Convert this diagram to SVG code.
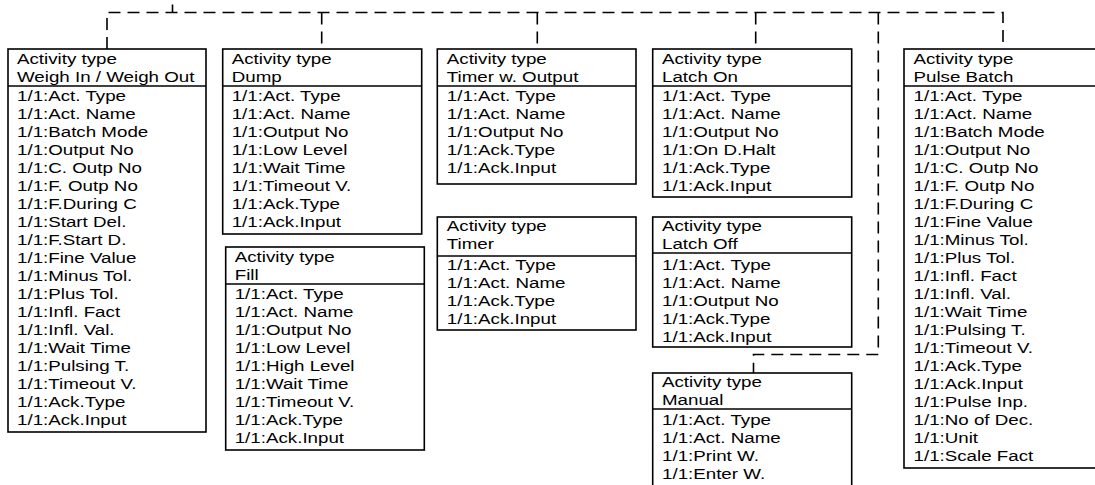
<svg xmlns="http://www.w3.org/2000/svg" width="1095" height="485" viewBox="0 0 1095 485">
<style>
.node rect{fill:#fff;stroke:#000;stroke-width:1.6}
.node line{stroke:#000;stroke-width:1.6}
text{font-family:"Liberation Sans",Arial,Helvetica,sans-serif;font-size:15.5px;fill:#000}
.conn path{fill:none;stroke:#000;stroke-width:1.6;stroke-dasharray:12 7}
.conn line{stroke:#000;stroke-width:1.6}
</style>
<rect x="0" y="0" width="1095" height="485" fill="#fff"/>
<g id="connectors" class="conn">
<line x1="172.5" y1="4.5" x2="172.5" y2="12.5"/>
<path d="M107,49 V12.5 H1003 V49"/>
<path d="M321.7,12.5 V49"/>
<path d="M537.3,12.5 V49"/>
<path d="M755.7,12.5 V49"/>
<path d="M878.3,12.5 V354.5 H753.5 V373"/>
</g>
<g id="weigh" class="node">
<rect x="8" y="49" width="198" height="383"/>
<line x1="8" y1="86" x2="206" y2="86"/>
<g transform="translate(17 0) scale(1.21 1)"><text>
<tspan x="0" y="64">Activity type</tspan><tspan x="0" y="82">Weigh In / Weigh Out</tspan>
<tspan x="0" y="101">1/1:Act. Type</tspan><tspan x="0" dy="18">1/1:Act. Name</tspan><tspan x="0" dy="18">1/1:Batch Mode</tspan><tspan x="0" dy="18">1/1:Output No</tspan><tspan x="0" dy="18">1/1:C. Outp No</tspan><tspan x="0" dy="18">1/1:F. Outp No</tspan><tspan x="0" dy="18">1/1:F.During C</tspan><tspan x="0" dy="18">1/1:Start Del.</tspan><tspan x="0" dy="18">1/1:F.Start D.</tspan><tspan x="0" dy="18">1/1:Fine Value</tspan><tspan x="0" dy="18">1/1:Minus Tol.</tspan><tspan x="0" dy="18">1/1:Plus Tol.</tspan><tspan x="0" dy="18">1/1:Infl. Fact</tspan><tspan x="0" dy="18">1/1:Infl. Val.</tspan><tspan x="0" dy="18">1/1:Wait Time</tspan><tspan x="0" dy="18">1/1:Pulsing T.</tspan><tspan x="0" dy="18">1/1:Timeout V.</tspan><tspan x="0" dy="18">1/1:Ack.Type</tspan><tspan x="0" dy="18">1/1:Ack.Input</tspan>
</text></g>
</g>
<g id="dump" class="node">
<rect x="222.7" y="49" width="199" height="185"/>
<line x1="222.7" y1="86" x2="421.7" y2="86"/>
<g transform="translate(231.7 0) scale(1.21 1)"><text>
<tspan x="0" y="64">Activity type</tspan><tspan x="0" y="82">Dump</tspan>
<tspan x="0" y="101">1/1:Act. Type</tspan><tspan x="0" dy="18">1/1:Act. Name</tspan><tspan x="0" dy="18">1/1:Output No</tspan><tspan x="0" dy="18">1/1:Low Level</tspan><tspan x="0" dy="18">1/1:Wait Time</tspan><tspan x="0" dy="18">1/1:Timeout V.</tspan><tspan x="0" dy="18">1/1:Ack.Type</tspan><tspan x="0" dy="18">1/1:Ack.Input</tspan>
</text></g>
</g>
<g id="fill" class="node">
<rect x="225.7" y="247" width="198.6" height="203"/>
<line x1="225.7" y1="284" x2="424.3" y2="284"/>
<g transform="translate(234.7 0) scale(1.21 1)"><text>
<tspan x="0" y="262">Activity type</tspan><tspan x="0" y="280">Fill</tspan>
<tspan x="0" y="299">1/1:Act. Type</tspan><tspan x="0" dy="18">1/1:Act. Name</tspan><tspan x="0" dy="18">1/1:Output No</tspan><tspan x="0" dy="18">1/1:Low Level</tspan><tspan x="0" dy="18">1/1:High Level</tspan><tspan x="0" dy="18">1/1:Wait Time</tspan><tspan x="0" dy="18">1/1:Timeout V.</tspan><tspan x="0" dy="18">1/1:Ack.Type</tspan><tspan x="0" dy="18">1/1:Ack.Input</tspan>
</text></g>
</g>
<g id="timer-output" class="node">
<rect x="437.3" y="49" width="198.7" height="135"/>
<line x1="437.3" y1="86" x2="636" y2="86"/>
<g transform="translate(446.8 0) scale(1.21 1)"><text>
<tspan x="0" y="64">Activity type</tspan><tspan x="0" y="82">Timer w. Output</tspan>
<tspan x="0" y="101">1/1:Act. Type</tspan><tspan x="0" dy="18">1/1:Act. Name</tspan><tspan x="0" dy="18">1/1:Output No</tspan><tspan x="0" dy="18">1/1:Ack.Type</tspan><tspan x="0" dy="18">1/1:Ack.Input</tspan>
</text></g>
</g>
<g id="timer" class="node">
<rect x="437.3" y="217" width="198.7" height="113"/>
<line x1="437.3" y1="256" x2="636" y2="256"/>
<g transform="translate(446.8 0) scale(1.21 1)"><text>
<tspan x="0" y="231">Activity type</tspan><tspan x="0" y="249">Timer</tspan>
<tspan x="0" y="270">1/1:Act. Type</tspan><tspan x="0" dy="18">1/1:Act. Name</tspan><tspan x="0" dy="18">1/1:Ack.Type</tspan><tspan x="0" dy="18">1/1:Ack.Input</tspan>
</text></g>
</g>
<g id="latch-on" class="node">
<rect x="652.7" y="49" width="199" height="148"/>
<line x1="652.7" y1="86" x2="851.7" y2="86"/>
<g transform="translate(662 0) scale(1.21 1)"><text>
<tspan x="0" y="64">Activity type</tspan><tspan x="0" y="82">Latch On</tspan>
<tspan x="0" y="101">1/1:Act. Type</tspan><tspan x="0" dy="18">1/1:Act. Name</tspan><tspan x="0" dy="18">1/1:Output No</tspan><tspan x="0" dy="18">1/1:On D.Halt</tspan><tspan x="0" dy="18">1/1:Ack.Type</tspan><tspan x="0" dy="18">1/1:Ack.Input</tspan>
</text></g>
</g>
<g id="latch-off" class="node">
<rect x="652.7" y="217" width="199" height="130"/>
<line x1="652.7" y1="253" x2="851.7" y2="253"/>
<g transform="translate(662 0) scale(1.21 1)"><text>
<tspan x="0" y="231">Activity type</tspan><tspan x="0" y="249">Latch Off</tspan>
<tspan x="0" y="270">1/1:Act. Type</tspan><tspan x="0" dy="18">1/1:Act. Name</tspan><tspan x="0" dy="18">1/1:Output No</tspan><tspan x="0" dy="18">1/1:Ack.Type</tspan><tspan x="0" dy="18">1/1:Ack.Input</tspan>
</text></g>
</g>
<g id="manual" class="node">
<rect x="652.7" y="373" width="199" height="125"/>
<line x1="652.7" y1="409" x2="851.7" y2="409"/>
<g transform="translate(662 0) scale(1.21 1)"><text>
<tspan x="0" y="387">Activity type</tspan><tspan x="0" y="405">Manual</tspan>
<tspan x="0" y="425">1/1:Act. Type</tspan><tspan x="0" dy="18">1/1:Act. Name</tspan><tspan x="0" dy="18">1/1:Print W.</tspan><tspan x="0" dy="18">1/1:Enter W.</tspan>
</text></g>
</g>
<g id="pulse-batch" class="node">
<rect x="904" y="49" width="205" height="419"/>
<line x1="904" y1="86" x2="1109" y2="86"/>
<g transform="translate(913.5 0) scale(1.21 1)"><text>
<tspan x="0" y="64">Activity type</tspan><tspan x="0" y="82">Pulse Batch</tspan>
<tspan x="0" y="101">1/1:Act. Type</tspan><tspan x="0" dy="18">1/1:Act. Name</tspan><tspan x="0" dy="18">1/1:Batch Mode</tspan><tspan x="0" dy="18">1/1:Output No</tspan><tspan x="0" dy="18">1/1:C. Outp No</tspan><tspan x="0" dy="18">1/1:F. Outp No</tspan><tspan x="0" dy="18">1/1:F.During C</tspan><tspan x="0" dy="18">1/1:Fine Value</tspan><tspan x="0" dy="18">1/1:Minus Tol.</tspan><tspan x="0" dy="18">1/1:Plus Tol.</tspan><tspan x="0" dy="18">1/1:Infl. Fact</tspan><tspan x="0" dy="18">1/1:Infl. Val.</tspan><tspan x="0" dy="18">1/1:Wait Time</tspan><tspan x="0" dy="18">1/1:Pulsing T.</tspan><tspan x="0" dy="18">1/1:Timeout V.</tspan><tspan x="0" dy="18">1/1:Ack.Type</tspan><tspan x="0" dy="18">1/1:Ack.Input</tspan><tspan x="0" dy="18">1/1:Pulse Inp.</tspan><tspan x="0" dy="18">1/1:No of Dec.</tspan><tspan x="0" dy="18">1/1:Unit</tspan><tspan x="0" dy="18">1/1:Scale Fact</tspan>
</text></g>
</g>
</svg>
